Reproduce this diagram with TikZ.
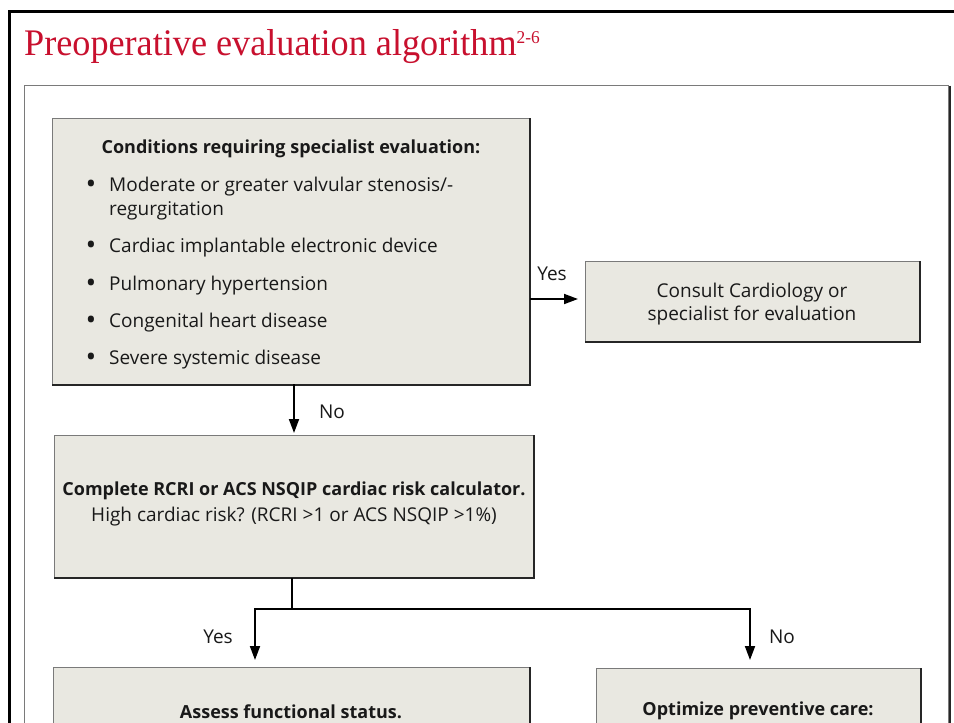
\documentclass[tikz,border=0pt]{standalone}
\usepackage{fontspec}
\setmainfont{Open Sans}
\newfontfamily\titlefont[FakeStretch=0.965]{Liberation Serif}
\usetikzlibrary{arrows.meta}
\definecolor{boxfill}{HTML}{E9E8E1}
\definecolor{boxline}{HTML}{7A7A7A}
\definecolor{titlered}{HTML}{C8102E}
\tikzset{
  box/.style={draw=boxline, line width=1pt, fill=boxfill, anchor=north west, inner sep=0pt},
  shade/.style={line width=1.6pt, draw=black!85},
  txt/.style={inner sep=0pt, anchor=base, text=black!90, font=\fontsize{19}{22}\selectfont},
  btxt/.style={txt, font=\fontsize{18}{21}\selectfont\bfseries},
  ltxt/.style={txt, anchor=base west},
  dot/.style={txt, font=\fontsize{22}{22}\selectfont\bfseries},
  flow/.style={line width=1.8pt, -{Triangle[length=14pt,width=10pt]}},
  plain/.style={line width=1.8pt}
}
% Draws the shadowed right and bottom edges of a box node
\newcommand{\boxshade}[1]{\draw[shade] (#1.north east) -- (#1.south east) -- (#1.south west);}
\begin{document}
\begin{tikzpicture}[x=1pt,y=-1pt]
\useasboundingbox (0,0) rectangle (954,723);
\clip (0,0) rectangle (954,723);
\fill[white] (0,0) rectangle (954,723);

% outer and inner frames
\draw[line width=3pt] (960,11) -- (9.5,11) -- (9.5,760);
\draw[boxline, line width=1.4pt] (24.5,760) -- (24.5,85.5) -- (948.5,85.5) -- (948.5,760);
\draw[black!85, line width=1.6pt] (950.2,85.5) -- (950.2,760);

% heading
\node[anchor=base west, inner sep=0pt, text=titlered,
      font=\titlefont\fontsize{37.5}{40}\selectfont] (heading) at (24,55)
  {Preoperative evaluation algorithm\raisebox{12pt}{\fontsize{18}{18}\selectfont 2-6}};

% box 1: specialist conditions
\node[box, minimum width=477pt, minimum height=266pt] (b1) at (52,118) {};
\boxshade{b1}
\node[btxt] (b1t) at (291,153) {Conditions requiring specialist evaluation:};
\node[dot] (u1) at (91,191) {\textbullet};
\node[ltxt] (i1a) at (109,191) {Moderate or greater valvular stenosis/-};
\node[ltxt] (i1b) at (109,215) {regurgitation};
\node[dot] (u2) at (91,252.5) {\textbullet};
\node[ltxt] (i2) at (109,252.5) {Cardiac implantable electronic device};
\node[dot] (u3) at (91,290) {\textbullet};
\node[ltxt] (i3) at (109,290) {Pulmonary hypertension};
\node[dot] (u4) at (91,327) {\textbullet};
\node[ltxt] (i4) at (109,327) {Congenital heart disease};
\node[dot] (u5) at (91,364) {\textbullet};
\node[ltxt] (i5) at (109,364) {Severe systemic disease};

% consult box
\node[box, minimum width=334pt, minimum height=80pt] (c) at (585,261) {};
\boxshade{c}
\node[txt] (ct1) at (752,297.5) {Consult Cardiology or};
\node[txt] (ct2) at (752,320.5) {specialist for evaluation};

% box 2: risk calculator
\node[box, minimum width=479pt, minimum height=142pt] (b2) at (54,435) {};
\boxshade{b2}
\node[btxt] (b2t1) at (294,495) {Complete RCRI or ACS NSQIP cardiac risk calculator.};
\node[txt] (b2t2) at (294,521.5) {High cardiac risk? (RCRI >1 or ACS NSQIP >1\%)};

% box 3 and box 4
\node[box, minimum width=476pt, minimum height=120pt] (b3) at (53,667) {};
\boxshade{b3}
\node[btxt] (b3t) at (291,718) {Assess functional status.};
\node[box, minimum width=324pt, minimum height=120pt] (b4) at (596,668) {};
\boxshade{b4}
\node[btxt] (b4t) at (758,715) {Optimize preventive care:};

% connectors
\draw[flow, shorten >=2pt] (b2.north -| 294,0) ++(0,-51) -- (b2.north -| 294,0);
\draw[flow, shorten >=7pt] (b1.east |- 0,299) -- (c.west |- 0,299);
\coordinate (split) at (292,609);
\draw[plain] (b2.south -| split) -- (split);
\draw[flow, shorten >=7pt, line join=miter] (split) -| (b3.north -| 255,0);
\draw[flow, shorten >=8pt, line join=miter] (split) -| (b4.north -| 750,0);

% branch labels
\node[txt] (lno1) at (332,418) {No};
\node[txt] (lyes1) at (552,280.5) {Yes};
\node[txt] (lyes2) at (218,643) {Yes};
\node[txt] (lno2) at (782,643) {No};
\end{tikzpicture}
\end{document}
